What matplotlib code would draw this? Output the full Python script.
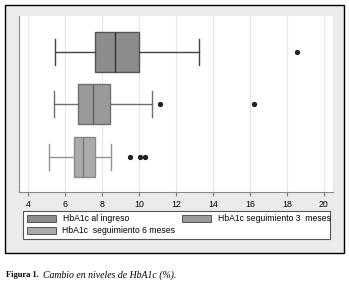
import matplotlib
matplotlib.use("Agg")
import matplotlib.pyplot as plt
from matplotlib.patches import Rectangle

# Data
labels = ["HbA1c al ingreso", "HbA1c seguimiento 3  meses", "HbA1c  seguimiento 6 meses"]
whislo = [5.45, 5.42, 5.12]
q1 = [7.6, 6.72, 6.5]
med = [8.69, 7.51, 6.99]
q3 = [10.02, 8.41, 7.64]
whishi = [13.24, 10.72, 8.5]
fliers = [[18.52], [11.12, 16.23], [9.51, 10.05, 10.34]]
xticks = [4, 6, 8, 10, 12, 14, 16, 18, 20]

face_colors = ["#8c8c8c", "#9a9a9a", "#ababab"]
edge_colors = ["#555555", "#707070", "#8a8a8a"]
med_colors = ["#333333", "#606060", "#7a7a7a"]
whisk_colors = ["#444444", "#6e6e6e", "#939393"]

W, H = 349, 291
fig = plt.figure(figsize=(W / 100, H / 100), dpi=100)
fig.patch.set_facecolor("white")

def fx(px):
    return px / W

def fy(py):
    return 1 - py / H

# Outer frame
fig.patches.append(Rectangle((fx(5), fy(253)), fx(339), (248) / H, transform=fig.transFigure,
                             facecolor="#ebebeb", edgecolor="black", linewidth=1.0, zorder=-10))

ax = fig.add_axes([fx(19), fy(192), fx(314), (192 - 16) / H])
ax.set_zorder(5)
ax.set_facecolor("white")

stats = []
for i in range(3):
    stats.append(dict(whislo=whislo[i], q1=q1[i], med=med[i], q3=q3[i],
                      whishi=whishi[i], fliers=fliers[i], label=labels[i]))

positions = [1, 2, 3]
for i in range(3):
    ax.bxp([stats[i]], positions=[positions[i]], vert=False, widths=0.76,
           capwidths=0.5, patch_artist=True, manage_ticks=False,
           boxprops=dict(facecolor=face_colors[i], edgecolor=edge_colors[i], linewidth=1.0),
           medianprops=dict(color=med_colors[i], linewidth=1.0),
           whiskerprops=dict(color=whisk_colors[i], linewidth=1.0),
           capprops=dict(color=whisk_colors[i], linewidth=1.0),
           flierprops=dict(marker="o", markerfacecolor="#222222", markeredgecolor="#222222",
                           markersize=2.8))

ax.set_xlim(3.51, 20.49)
ax.set_ylim(3.67, 0.32)
ax.set_xticks(xticks)
ax.set_xticklabels([str(t) for t in xticks], fontsize=6.3, family="Liberation Sans")
ax.set_yticks([])
ax.grid(axis="x", color="#e6e6e6", linewidth=0.8)
ax.set_axisbelow(True)
ax.tick_params(axis="x", length=3, width=0.8, color="#777777", pad=3)
for s in ["top", "right"]:
    ax.spines[s].set_visible(False)
ax.spines["left"].set_color("#8a8a8a")
ax.spines["bottom"].set_color("#8a8a8a")
ax.spines["left"].set_linewidth(0.8)
ax.spines["bottom"].set_linewidth(0.8)

# Legend (manual)
fig.patches.append(Rectangle((fx(23), fy(239)), fx(307), 28 / H, transform=fig.transFigure,
                             facecolor="white", edgecolor="#555555", linewidth=0.8, zorder=1))
leg_items = [
    (27, 215, 63, labels[0], 0),
    (182, 215, 218, labels[1], 1),
    (27, 227, 62, labels[2], 2),
]
for px, py, tx, lab, i in leg_items:
    fig.patches.append(Rectangle((fx(px), fy(py + 7)), fx(29), 7 / H, transform=fig.transFigure,
                                 facecolor=face_colors[i], edgecolor="#555555", linewidth=0.7, zorder=2))
    fig.text(fx(tx), fy(py + 3.5), lab, fontsize=6.2, family="Liberation Sans",
             va="center", ha="left", zorder=3)

# Caption
t1 = fig.text(fx(6), fy(275), "Figura 1.", fontsize=6.0, family="Liberation Serif",
              weight="bold", va="center", ha="left")
fig.canvas.draw()
bb = t1.get_window_extent()
x_it = max(bb.x1 + 3, 43)
fig.text(x_it / W, fy(275), "Cambio en niveles de HbA1c (%).", fontsize=7.0,
         family="Liberation Serif", style="italic", va="center", ha="left")

fig.savefig("out.png", dpi=100, facecolor="white")
